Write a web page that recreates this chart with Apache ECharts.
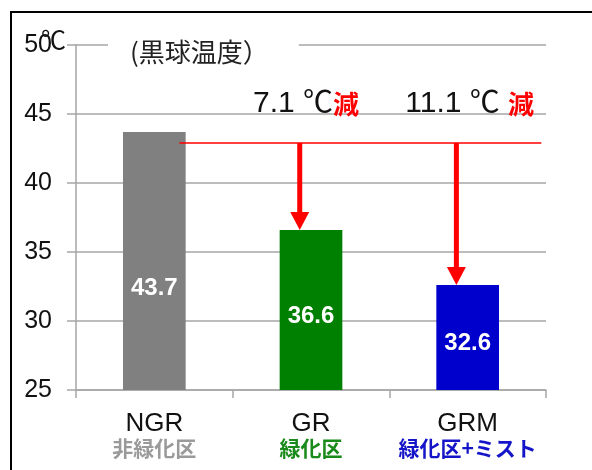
<!DOCTYPE html>
<html>
<head>
<meta charset="utf-8">
<script src="https://cdn.jsdelivr.net/npm/echarts@6/dist/echarts.min.js"></script>
<style>
html,body{margin:0;padding:0;background:#fff;}
#c{width:592px;height:470px;}
</style>
</head>
<body>
<div id="c"></div>
<script>
// ---- data ----
const categories = ['NGR', 'GR', 'GRM'];
const subLabels = ['非緑化区', '緑化区', '緑化区+ミスト'];
const temps = [43.7, 36.6, 32.6];
const refLevel = 42.9;               // level of the red reference line
const reductionTargets = [1, 2];     // category indexes with arrows
const reductionTexts = ['7.1 ℃', '11.1 ℃ '];
const reductionWord = '減';
const yMin = 25, yMax = 50, yStep = 5;
const titleText = '(黒球温度）';
const unitText = '℃';

// ---- styles ----
const barColors = ['#808080', '#008000', '#0000cc'];
const subColors = ['#9a9a9a', '#1a8a1a', '#1414c8'];
const labelDistances = [90, 62, 35];
const red = '#ff0000';
const gridColor = '#a6a6a6';

const chart = echarts.init(document.getElementById('c'), null, {renderer: 'canvas'});

const latin = '"Liberation Sans", Arial, "Noto Sans CJK JP", sans-serif';
const cjk = '"Noto Sans CJK JP", "Liberation Sans", sans-serif';

const richCat = {
  a: {fontSize: 26, fontFamily: latin, color: '#111', lineHeight: 24}
};
subColors.forEach((c, i) => {
  richCat['s' + i] = {fontSize: 21, fontFamily: cjk, fontWeight: 'bold', color: c, lineHeight: 24};
});

const option = {
  backgroundColor: '#fff',
  animation: false,
  grid: {left: 76, right: 46, top: 45, bottom: 80, containLabel: false},
  xAxis: {
    type: 'category',
    data: categories,
    axisLine: {show: true, lineStyle: {color: gridColor, width: 1.5}},
    axisTick: {show: true, length: 8, alignWithLabel: false, lineStyle: {color: gridColor, width: 1.5}},
    axisLabel: {
      margin: 22,
      interval: 0,
      formatter: function (v, i) { return '{a|' + v + '}\n{s' + i + '|' + subLabels[i] + '}'; },
      rich: richCat
    }
  },
  yAxis: {
    type: 'value',
    min: yMin, max: yMax, interval: yStep,
    axisLine: {show: true, lineStyle: {color: gridColor, width: 1.5}},
    axisTick: {show: true, length: 9, lineStyle: {color: gridColor, width: 1.5}},
    splitLine: {show: true, lineStyle: {color: gridColor, width: 1.5}},
    axisLabel: {margin: 24, fontSize: 25, fontFamily: latin, color: '#111'}
  },
  series: [
    {
      type: 'bar',
      barWidth: '40%',
      data: temps.map((v, i) => ({
        value: v,
        itemStyle: {color: barColors[i]},
        label: {distance: labelDistances[i]}
      })),
      label: {
        show: true, position: 'insideBottom',
        color: '#fff', fontSize: 24, fontWeight: 'bold', fontFamily: latin,
        formatter: p => p.value.toFixed(1)
      },
      z: 2
    },
    {
      // red reference line
      type: 'custom',
      data: [[0, categories.length - 1, refLevel]],
      renderItem: function (params, api) {
        const band = api.size([1, 0])[0];
        const p0 = api.coord([api.value(0), api.value(2)]);
        const p1 = api.coord([api.value(1), api.value(2)]);
        return {
          type: 'line',
          shape: {x1: p0[0] + band * 0.16, y1: p0[1], x2: p1[0] + band * 0.47, y2: p1[1]},
          style: {stroke: red, lineWidth: 1.6}
        };
      },
      z: 5
    },
    {
      // arrows + reduction annotations
      type: 'custom',
      data: reductionTargets.map((c, i) => [c, refLevel, temps[c], i]),
      renderItem: function (params, api) {
        const band = api.size([1, 0])[0];
        const top = api.coord([api.value(0), api.value(1)]);
        const tip = api.coord([api.value(0), api.value(2)]);
        const cx = top[0];
        const ax = cx - band * 0.072;
        const headH = 18, headW = 19, shaftW = 5;
        const idx = api.value(3);
        return {
          type: 'group',
          children: [
            {type: 'rect', shape: {x: ax - shaftW / 2, y: top[1], width: shaftW, height: tip[1] - headH - top[1] + 1},
             style: {fill: red}},
            {type: 'polygon', shape: {points: [[ax - headW / 2, tip[1] - headH], [ax + headW / 2, tip[1] - headH], [ax, tip[1]]]},
             style: {fill: red}},
            {type: 'text', x: cx + (idx === 0 ? -5 : 2), y: top[1] - 39,
             style: {
               text: '{n|' + reductionTexts[idx] + '}{r|' + reductionWord + '}',
               align: 'center', verticalAlign: 'middle',
               rich: {
                 n: {fontSize: 30, fontFamily: latin, fill: '#111', color: '#111'},
                 r: {fontSize: 26, fontFamily: cjk, fontWeight: 'bold', fill: red, color: red}
               }
             }}
          ]
        };
      },
      z: 6
    }
  ],
  graphic: [
    {type: 'rect', shape: {x: 11, y: 12, width: 700, height: 600}, style: {fill: 'none', stroke: '#000', lineWidth: 2}, silent: true},
    {type: 'text', left: 108, top: 37, z: 10,
     style: {text: titleText, fontSize: 26, fontFamily: cjk, fill: '#222',
             backgroundColor: '#fff', padding: [2, 30, 2, 22]}},
    {type: 'text', left: 41, top: 30, z: 10, style: {text: unitText, fontSize: 25, fontFamily: latin, fill: '#111'}}
  ]
};
chart.setOption(option);
</script>
</body>
</html>
